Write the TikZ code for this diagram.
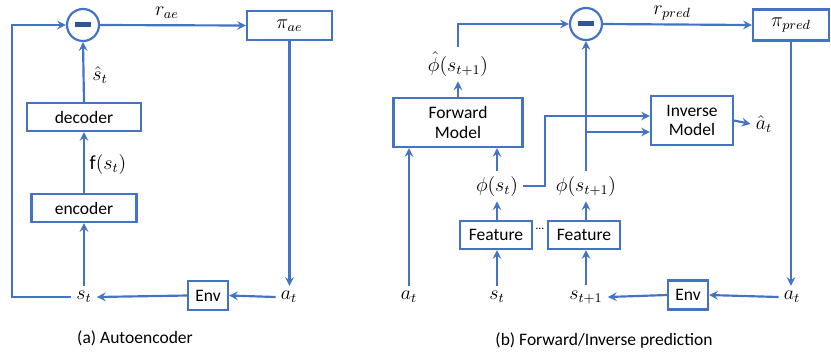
\documentclass[tikz,border=0pt]{standalone}
\usepackage{fontspec}
\setmainfont{Carlito}
\usepackage{xcolor}
\definecolor{line1}{RGB}{68,114,196}
\definecolor{line2}{RGB}{47,85,151}
\usepackage{tikz}
\usetikzlibrary{positioning, arrows, calc}
\tikzstyle{box} = [
    rectangle, text centered,
    draw=line1,
    line width=1.3pt,
    inner sep=2pt,
    font=\fontsize{10.5}{12}\selectfont,
]
\tikzstyle{coder} = [
    box,
    minimum height=16.8pt,
]
\tikzstyle{policy} = [
    box,
    minimum height=17.4pt,
    font=\fontsize{12}{14}\selectfont,
]
\tikzstyle{model} = [
    box,
    minimum height=29.4pt,
    align=center,
    font=\fontsize{10.5}{11.5}\selectfont,
]
\tikzstyle{minus} = [
    circle,
    draw=line1,
    line width=1.3pt,
    minimum size=19.2pt,
    inner sep=0pt,
]
\tikzstyle{label} = [
    inner sep=3pt,
    font=\fontsize{12}{14}\selectfont,
]
\tikzstyle{caption} = [
    font=\fontsize{10.5}{12}\selectfont,
]
\tikzstyle{arrow} = [->,>=stealth, draw=line1, line width=1.3pt]

\begin{document}
\begin{tikzpicture}[x=0.6pt, y=-0.6pt]
    \useasboundingbox (0,0) rectangle (831,351);

    % (a) autoencoder
    \node (minusa) at (83, 25) [minus] {\color{line2}\rule[0.25ex]{10pt}{3pt}};
    \node (piae) at (289.5, 25.5) [policy, minimum width=51pt] {$\pi_{ae}$};
    \node (dec) at (84, 117) [coder, minimum width=68.4pt] {decoder};
    \node (enc) at (84, 208) [coder, minimum width=63pt] {encoder};
    \node (sta) at (84, 297) [label] {$s_t$};
    \node (ata) at (289, 297) [label] {$a_t$};
    \node (enva) at (208, 295.5) [coder, minimum width=24pt, minimum height=17.4pt] {Env};
    \node (rae) at (167, 13) [label] {$r_{ae}$};
    \node (shat) at (100, 75) [label] {$\hat{s}_t$};
    \node (fst) at (108, 164) [label] {f$(s_t)$};
    \node (capa) at (135, 338) [caption] {(a) Autoencoder};
    \coordinate (loopa) at (12, 297);

    % (b) forward/inverse prediction
    \node (minusb) at (586, 24) [minus] {\color{line2}\rule[0.25ex]{10pt}{3pt}};
    \node (pipred) at (791, 25) [policy, minimum width=45.6pt, minimum height=18.6pt] {$\pi_{pred}$};
    \node (rpred) at (672, 13) [label] {$r_{pred}$};
    \node (fwd) at (458, 122.5) [model, minimum width=77.4pt] {Forward\\Model};
    \node (inv) at (692, 120.5) [model, minimum width=49.2pt] {Inverse\\Model};
    \node (phihat) at (458, 64) [label] {$\hat{\phi}(s_{t+1})$};
    \node (ahat) at (764, 124) [label] {$\hat{a}_t$};
    \node (phit) at (497, 186) [label] {$\phi(s_t)$};
    \node (phitt) at (586, 186) [label] {$\phi(s_{t+1})$};
    \node (feat1) at (496, 235) [coder, minimum width=43.2pt] {Feature};
    \node (feat2) at (584, 235) [coder, minimum width=43.2pt] {Feature};
    \node (dots) at (540, 229) [caption, font=\fontsize{7}{8}\selectfont] {\textellipsis};
    \node (atb) at (409, 297) [label] {$a_t$};
    \node (stb) at (497, 297) [label] {$s_t$};
    \node (sttb) at (586, 297) [label] {$s_{t+1}$};
    \node (envb) at (688, 295) [coder, minimum width=24pt, minimum height=17.4pt] {Env};
    \node (atb2) at (792, 297) [label] {$a_t$};
    \node (capb) at (604, 340) [caption] {(b) Forward/Inverse prediction};
    \coordinate (bend) at (545, 116);
    \coordinate (branch) at (586, 132);

    % arrows (a)
    \draw [arrow] (sta.west) -- (loopa) |- (minusa.west);
    \draw [arrow] (minusa.east) -- (piae.west);
    \draw [arrow] (dec.north) -- (minusa.south);
    \draw [arrow] (enc.north) -- (dec.south);
    \draw [arrow] (sta.north) -- (enc.south);
    \draw [arrow] (piae.south) -- (piae.south |- ata.north);
    \draw [arrow] (ata.west) -- (enva.east);
    \draw [arrow] (enva.west) -- (sta.east);

    % arrows (b)
    \draw [arrow] (fwd.north) -- (phihat.south);
    \draw [arrow] (phihat.north) |- (minusb.west);
    \draw [arrow] (minusb.east) -- (pipred.west);
    \draw [arrow] (phitt.north) -- (phitt.north |- minusb.south);
    \draw [arrow] (branch) -- (branch -| inv.west);
    \draw [arrow] (phit.east) -| (bend) -- (bend -| inv.west);
    \draw [arrow] (inv.east) -- (ahat.west);
    \draw [arrow] (atb.north) -- (atb.north |- fwd.south);
    \draw [arrow] (phit.north) -- (phit.north |- fwd.south);
    \draw [arrow] (feat1.north -| phit) -- (phit.south);
    \draw [arrow] (feat2.north -| phitt) -- (phitt.south);
    \draw [arrow] (stb.north) -- (stb.north |- feat1.south);
    \draw [arrow] (sttb.north) -- (sttb.north |- feat2.south);
    \draw [arrow] (pipred.south) -- (pipred.south |- atb2.north);
    \draw [arrow] (atb2.west) -- (envb.east);
    \draw [arrow] (envb.west) -- (sttb.east);

\end{tikzpicture}
\end{document}
